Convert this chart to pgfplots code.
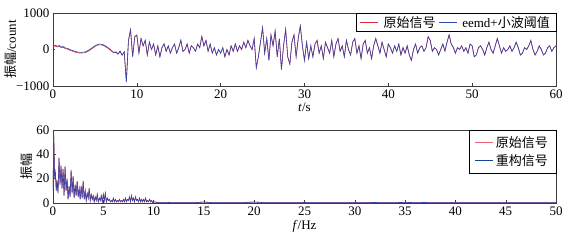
\documentclass[border=0pt]{standalone}
\usepackage{fontspec}
\setmainfont{Liberation Serif}
\newfontfamily\cjk{Noto Sans CJK SC}
\usepackage{pgfplots}
\pgfplotsset{compat=1.18}
\usepackage{pgfplotstable}
\definecolor{sigred}{RGB}{220,40,60}
\definecolor{sigblue}{RGB}{50,70,170}
\definecolor{legblue}{RGB}{20,70,150}
\definecolor{legred}{RGB}{235,100,115}
\definecolor{axgray}{RGB}{60,60,60}

\pgfplotstableread{
t orig den
0 80 100
0.25 95 120
0.5 70 90
0.75 85 110
1.0 50 70
1.25 55 80
1.5 20 40
1.75 10 30
2.0 -20 0
2.25 -40 -20
2.5 -60 -40
2.75 -80 -60
3.0 -90 -70
3.25 -100 -80
3.5 -95 -75
3.75 -90 -70
4.0 -70 -50
4.25 -40 -20
4.5 0 20
4.75 40 60
5.0 80 100
5.25 110 130
5.5 130 150
5.75 125 145
6.0 110 130
6.25 80 100
6.5 40 60
6.75 0 20
7.0 -50 -30
7.25 -90 -80
7.5 -80 -60
7.75 -130 -120
8.0 -60 -40
8.25 -160 -150
8.5 -80 -60
8.75 -880 -900
9.0 240 250
9.25 530 550
9.5 -190 -200
9.75 350 350
10.0 390 400
10.25 -90 -100
10.5 300 300
10.75 100 100
11.0 250 250
11.25 -150 -150
11.5 210 200
11.75 0 0
12.0 150 150
12.25 -150 -150
12.5 100 100
12.75 -200 -200
13.0 50 50
13.25 160 150
13.5 -50 -50
13.75 100 100
14.0 -100 -100
14.25 50 50
14.5 150 150
14.75 -100 -100
15.0 50 50
15.25 260 250
15.5 -50 -50
15.75 0 0
16.0 150 150
16.25 -100 -100
16.5 110 100
16.75 50 50
17.0 -50 -50
17.25 150 150
17.5 50 50
17.75 360 350
18.0 100 100
18.25 250 250
18.5 -50 -50
18.75 150 150
19.0 -100 -100
19.25 50 50
19.5 -150 -150
19.75 0 0
20.0 -100 -100
20.25 50 50
20.5 -200 -200
20.75 0 0
21.0 -150 -150
21.25 100 100
21.5 -50 -50
21.75 150 150
22.0 -50 -50
22.25 100 100
22.5 0 0
22.75 200 200
23.0 50 50
23.25 250 250
23.5 100 100
23.75 0 0
24.0 300 300
24.25 -500 -500
24.5 -200 -200
24.75 200 200
25.0 600 600
25.25 -100 -100
25.5 300 300
25.75 -300 -300
26.0 400 400
26.25 100 100
26.5 500 500
26.75 -200 -200
27.0 300 300
27.25 -550 -550
27.5 100 100
27.75 550 550
28.0 -200 -200
28.25 -400 -400
28.5 200 200
28.75 400 400
29.0 -200 -200
29.25 300 300
29.5 650 650
29.75 100 100
30.0 -300 -300
30.25 200 200
30.5 -250 -250
30.75 100 100
31.0 -200 -200
31.25 150 150
31.5 250 250
31.75 -100 -100
32.0 100 100
32.25 -250 -250
32.5 200 200
32.75 50 50
33.0 -100 -100
33.25 250 250
33.5 -200 -200
33.75 150 150
34.0 300 300
34.25 -50 -50
34.5 100 100
34.75 -200 -200
35.0 250 250
35.25 0 0
35.5 -150 -150
35.75 200 200
36.0 300 300
36.25 -100 -100
36.5 100 100
36.75 -250 -250
37.0 150 150
37.25 250 250
37.5 -100 -100
37.75 50 50
38.0 -250 -250
38.25 100 100
38.5 300 300
38.75 100 100
39.0 -100 -100
39.25 200 200
39.5 0 0
39.75 -200 -200
40.0 150 150
40.25 50 50
40.5 -100 -100
40.75 100 100
41.0 -50 -50
41.25 150 150
41.5 -150 -150
41.75 50 50
42.0 -100 -100
42.25 100 100
42.5 -150 -150
42.75 -300 -300
43.0 0 0
43.25 150 150
43.5 -100 -100
43.75 50 50
44.0 100 100
44.25 -50 -50
44.5 50 50
44.75 350 350
45.0 250 250
45.25 -50 -50
45.5 50 50
45.75 0 0
46.0 -150 -150
46.25 0 0
46.5 150 150
46.75 -30 -50
47.0 200 200
47.25 400 400
47.5 150 150
47.75 70 50
48.0 -100 -100
48.25 50 50
48.5 0 0
48.75 100 100
49.0 -50 -50
49.25 50 50
49.5 -100 -100
49.75 150 150
50.0 100 100
50.25 -200 -200
50.5 -150 -150
50.75 50 50
51.0 100 100
51.25 0 0
51.5 -150 -150
51.75 50 50
52.0 200 200
52.25 0 0
52.5 -100 -100
52.75 100 100
53.0 300 300
53.25 100 100
53.5 -100 -100
53.75 50 50
54.0 -50 -50
54.25 0 0
54.5 100 100
54.75 -50 -50
55.0 50 50
55.25 200 200
55.5 50 50
55.75 -150 -150
56.0 -100 -100
56.25 50 50
56.5 0 0
56.75 100 100
57.0 250 250
57.25 0 0
57.5 -150 -150
57.75 -50 -50
58.0 100 100
58.25 0 0
58.5 -150 -150
58.75 -100 -100
59.0 50 50
59.25 100 100
59.5 -50 -50
59.75 50 50
60.0 100 100
}\timedata

\pgfplotstableread{
f orig rec
0.0 12 10
0.08 56 55
0.16 22 20
0.24 26 25
0.32 11 10
0.4 19 18
0.5 9 8
0.6 37 37
0.7 16 15
0.8 31 30
0.9 12 12
1.0 28 28
1.1 6 6
1.2 30 30
1.3 10 10
1.4 20 20
1.5 3 3
1.6 14 14
1.7 5 5
1.8 27 27
1.9 8 8
2.0 22 22
2.1 4 4
2.2 15 15
2.3 6 6
2.4 18 18
2.5 5 5
2.6 12 12
2.7 3 3
2.8 14 14
2.9 4 4
3.0 18 18
3.1 3 3
3.2 10 10
3.3 2 2
3.4 8 8
3.5 4 4
3.6 12 12
3.7 2 2
3.8 7 7
3.9 3 3
4.0 6 6
4.1 1 1
4.2 5 5
4.3 2 2
4.4 7 7
4.5 1 1
4.6 4 4
4.7 2 2
4.8 6 6
4.9 1 1
5.0 7 7
5.1 2 2
5.2 8 8
5.3 1 1
5.4 4 4
5.5 2 2
5.6 3 3
5.7 1 1
5.8 2 2
5.9 1 1
6.0 4 4
6.1 1 1
6.2 3 3
6.3 1 1
6.4 2 2
6.5 1 1
6.6 3 3
6.7 1 1
6.8 2 2
6.9 1 1
7.0 3 3
7.1 1 1
7.2 4 4
7.3 1 1
7.4 3 3
7.5 2 2
7.6 5 5
7.7 1 1
7.8 6 6
7.9 2 2
8.0 4 4
8.1 1 1
8.2 5 5
8.3 2 2
8.4 3 3
8.5 1 1
8.6 4 4
8.7 1 1
8.8 3 3
8.9 1 1
9.0 3 3
9.1 1 1
9.2 4 4
9.3 1 1
9.4 2 2
9.5 1 1
9.6 3 3
9.7 1 1
9.8 2 2
9.9 0.5 0.5
10.0 1 1
10.5 0.3 0.3
11.0 0.2 0.2
11.5 0.4 0.4
12.0 0.2 0.2
13.0 0.3 0.3
14.0 0.2 0.2
15.0 0.8 0.8
16.0 0.2 0.2
17.0 0.3 0.3
18.0 0.2 0.2
19.0 0.3 0.3
20.0 0.8 0.8
21.0 0.3 0.3
22.0 0.2 0.2
23.0 0.3 0.3
24.0 0.2 0.2
25.0 0.4 0.4
26.0 0.2 0.2
27.0 0.3 0.3
28.0 0.2 0.2
29.0 0.3 0.3
30.0 0.2 0.2
31.0 0.3 0.3
32.0 0.4 0.4
33.0 0.2 0.2
34.0 0.3 0.3
35.0 0.5 0.5
36.0 0.3 0.3
37.0 0.4 0.4
38.0 0.2 0.2
39.0 0.3 0.3
40.0 0.2 0.2
42.0 0.2 0.2
44.0 0.2 0.2
46.0 0.2 0.2
48.0 0.2 0.2
50.0 0.2 0.2
}\specdata

\pgfplotsset{
  every axis/.append style={
    scale only axis,
    width=503pt, height=73pt,
    axis line style={axgray},
    tick style={axgray, thin},
    tick align=inside,
    major tick length=2.5pt,
    xtick pos=bottom, ytick pos=left,
    /pgf/number format/assume math mode=true,
    tick label style={font=\fontsize{13}{15}\selectfont},
    label style={font=\fontsize{13}{15}\selectfont},
    legend cell align=left,
    legend image code/.code={\draw[#1] (0pt,0pt) -- (18pt,0pt);},
  },
}

\begin{document}
\begin{tikzpicture}[font=\fontsize{13}{15}\selectfont]
\useasboundingbox (0,0) rectangle (571pt,243pt);
\begin{axis}[
  at={(53pt,157pt)}, anchor=south west,
  xmin=0, xmax=60, ymin=-1000, ymax=1000,
  xtick={0,10,...,60},
  ytick={-1000,0,1000},
  yticklabels={−1000,0,1000},
  ylabel={{\cjk 振幅}/count},
  ylabel style={at={(axis description cs:-0.0835,0.5)}, anchor=center},
  xlabel={\textit{t}/s},
  xlabel style={yshift=2pt},
  legend columns=2,
  legend style={at={(1,1)}, anchor=north east, draw=black, inner xsep=4pt, inner ysep=1pt,
    font=\fontsize{13}{15}\selectfont,
    /tikz/every odd column/.append style={column sep=3pt},
    /tikz/every even column/.append style={column sep=1pt}},
]
\addplot[sigred, line width=0.6pt] table[x=t, y=orig] {\timedata};
\addlegendentry{\cjk 原始信号}
\addplot[sigblue, line width=0.6pt] table[x=t, y=den] {\timedata};
\addlegendentry{eemd+{\cjk 小波阈值}}
\end{axis}

\begin{axis}[
  at={(53pt,40pt)}, anchor=south west,
  xmin=0, xmax=50, ymin=0, ymax=60,
  xtick={0,5,...,50},
  ytick={0,20,40,60},
  ylabel={\cjk 振幅},
  ylabel style={at={(axis description cs:-0.0517,0.5)}, anchor=center},
  xlabel={\textit{f}/Hz},
  xlabel style={yshift=2pt},
  legend style={at={(1,1)}, anchor=north east, draw=black, inner xsep=6pt, inner ysep=4pt,
    font=\fontsize{13}{15}\selectfont, row sep=2pt},
]
\addplot[sigred, line width=0.6pt, forget plot] table[x=f, y=orig] {\specdata};
\addplot[sigblue, line width=0.6pt, forget plot] table[x=f, y=rec] {\specdata};
\addlegendimage{legred, line width=0.8pt}
\addlegendentry{\cjk 原始信号}
\addlegendimage{legblue, line width=0.8pt}
\addlegendentry{\cjk 重构信号}
\end{axis}
\end{tikzpicture}
\end{document}
